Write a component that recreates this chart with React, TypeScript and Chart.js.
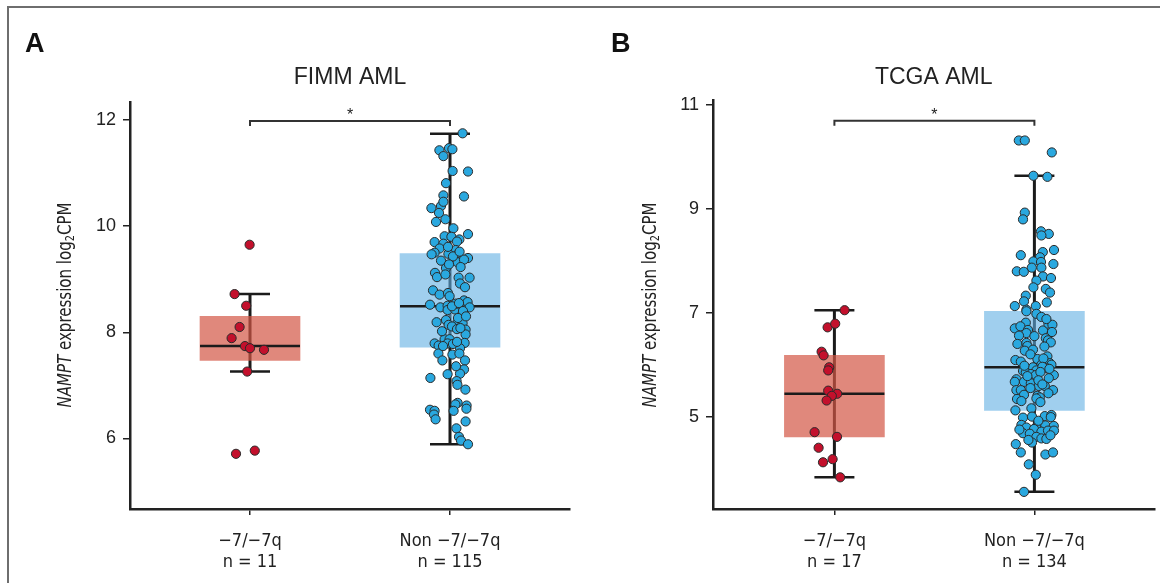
import React, { useEffect, useRef } from "react";
import { Chart, registerables } from "chart.js";

Chart.register(...registerables);

// ---------------- DATA ----------------
const categories = [1, 2];

// Panel A – FIMM AML
const titleA = "FIMM AML";
const tickLabelsA = [["−7/−7q", "n = 11"], ["Non −7/−7q", "n = 115"]];
const yTicksA = [6, 8, 10, 12];
const q1A = [7.47, 7.72];
const q3A = [8.3, 9.485];
const medianA = [7.74, 8.49];
const whiskerLowA = [7.26, 5.89];
const whiskerHighA = [8.72, 11.74];
const bracketA = 11.98;
const redValuesA = [9.65, 8.72, 8.5, 8.1, 7.89, 7.74, 7.7, 7.67, 7.26, 5.71, 5.77];
const redJitterA = [-0.002, -0.077, -0.019, -0.052, -0.092, -0.025, 0, 0.07, -0.014, -0.07, 0.024];
const blueValuesA = [
  11.75, 11.43, 11.47, 11.45, 11.32, 11.04, 11.03, 10.81, 10.58, 10.56,
  10.38, 10.34, 10.46, 10.25, 10.13, 10.08, 9.96, 9.85, 9.81, 9.8,
  9.75, 9.71, 9.7, 9.67, 9.58, 9.55, 9.5, 9.48, 9.47, 9.45,
  9.35, 9.32, 9.4, 9.35, 9.37, 9.23, 9.21, 9.12, 9.04, 9.09,
  9.03, 9.03, 8.92, 8.79, 8.71, 8.74, 8.68, 8.52, 8.47, 8.5,
  8.42, 8.43, 8.49, 8.6, 8.57, 8.47, 8.54, 8.19, 8.23, 8.14,
  8.19, 8.17, 8.11, 8.06, 8.05, 7.96, 8.08, 7.79, 7.75, 7.87,
  7.87, 7.79, 7.8, 7.7, 7.6, 7.47, 7.58, 7.6, 7.47, 7.3,
  7.22, 7.21, 7.14, 7.08, 7.01, 6.92, 6.67, 6.64, 6.62, 6.56,
  6.54, 6.52, 6.45, 6.36, 6.52, 6.32, 6.19, 6.03, 5.96, 5.89,
  8.49, 8.55, 8.4, 7.78, 7.82, 7.74, 9.43, 9.52, 9.28, 8.27,
  8.3, 8.02, 7.36, 8.85, 9.61,
];
const blueJitterA = [
  0.063, -0.053, -0.005, 0.012, -0.033, 0.013, 0.09, -0.02, -0.033, 0.07,
  -0.045, -0.093, -0.033, -0.055, -0.023, -0.07, 0.017, 0.09, -0.027, 0.007,
  0.047, 0.035, -0.077, -0.033, -0.052, 0.028, -0.077, -0.008, -0.092, 0.033,
  0.058, 0.038, 0.09, -0.045, 0.07, 0.053, -0.02, -0.075, -0.065, -0.023,
  0.043, 0.098, 0.05, -0.085, -0.052, -0.01, -0.002, -0.1, -0.048, -0.012,
  -0.012, 0.025, 0.06, 0.07, 0.088, 0.098, 0.028, -0.067, -0.02, -0.007,
  0.038, 0.063, 0.01, 0.035, 0.078, 0.078, 0.052, -0.077, -0.057, -0.027,
  -0.002, -0.012, 0.073, 0.05, -0.058, -0.038, 0.012, 0.047, 0.075, 0.07,
  0.05, -0.012, -0.098, 0.033, 0.037, 0.077, 0.038, 0.027, 0.083, 0.082,
  -0.1, -0.077, -0.08, -0.072, 0.018, 0.078, 0.032, 0.045, 0.055, 0.09,
  0.01, 0.045, 0.065, 0.015, 0.035, -0.035, 0.015, 0.048, -0.005, 0.04,
  0.08, -0.04, 0.03, 0.075, -0.01,
];

// Panel B – TCGA AML
const titleB = "TCGA AML";
const tickLabelsB = [["−7/−7q", "n = 17"], ["Non −7/−7q", "n = 134"]];
const yTicksB = [5, 7, 9, 11];
const q1B = [4.61, 5.12];
const q3B = [6.18, 7.03];
const medianB = [5.44, 5.95];
const whiskerLowB = [3.83, 3.55];
const whiskerHighB = [7.05, 9.64];
const bracketB = 10.7;
const redValuesB = [7.05, 6.72, 6.79, 6.25, 6.18, 5.95, 5.89, 5.5, 5.44, 5.4, 5.31, 4.7, 4.61, 4.4, 4.18, 4.12, 3.83];
const redJitterB = [0.051, -0.034, 0.004, -0.064, -0.054, -0.026, -0.031, -0.031, 0.014, -0.013, -0.039, -0.099, 0.013, -0.079, -0.009, -0.057, 0.029];
const blueValuesB = [
  10.32, 10.32, 10.09, 9.64, 9.62, 8.93, 8.8, 8.57, 8.52, 8.49,
  8.21, 8.11, 8.17, 8.07, 7.99, 7.98, 7.94, 7.87, 7.87, 7.8,
  7.79, 7.7, 7.67, 7.62, 7.49, 7.46, 7.39, 7.33, 7.22, 7.2,
  7.13, 7.13, 7.06,
  7.03, 6.98, 6.92, 6.81, 6.7, 6.74, 6.67, 6.61, 6.56, 6.66,
  6.79, 6.77, 6.63, 6.51, 6.47, 6.43, 6.4, 6.42, 6.36, 6.27,
  6.29, 6.16, 6.09, 6.06, 6.11, 6.0, 6.03, 6.0, 5.93, 5.9,
  5.95, 5.89, 5.88, 5.85, 5.82, 5.8, 5.8, 5.72, 5.67, 5.67,
  5.64, 5.74, 5.59, 5.59, 5.51, 5.51, 5.51, 5.42, 5.4, 5.37,
  5.34, 5.3, 5.35, 5.12, 5.16, 4.98, 5.0, 5.01, 5.03, 4.99,
  4.84, 4.79, 4.8, 4.83, 4.82, 4.76, 4.71, 4.73, 4.73, 4.68,
  4.67, 4.61, 4.58, 4.57, 4.5, 4.47, 4.31, 4.27, 4.31, 4.08,
  3.88, 3.55,
  6.88, 6.55, 6.35, 6.2, 6.12, 5.98, 5.96, 5.92, 5.86, 5.78,
  5.7, 5.62, 5.55, 5.45, 5.28, 4.92, 4.75, 4.64, 4.55,
];
const blueJitterB = [
  -0.078, -0.048, 0.087, -0.005, 0.065, -0.048, -0.057, 0.033, 0.072, 0.035,
  0.098, -0.068, 0.042, 0.028, -0.005, 0.033, 0.095, -0.013, 0.035, -0.088,
  -0.053, 0.043, 0.083, 0.01, -0.005, 0.057, 0.078, -0.043, -0.052, 0.062,
  -0.098, 0.007, -0.04,
  -0.04, 0.01, 0.035, -0.043, -0.098, -0.07, -0.032, -0.04, -0.077, 0.043,
  0.07, 0.09, 0.088, 0.057, 0.068, 0.082, -0.085, -0.04, -0.035, -0.048,
  -0.007, 0.065, -0.095, -0.068, 0.015, 0.035, 0.077, 0.085, 0.063, -0.028,
  -0.007, 0.01, -0.057, -0.043, -0.018, 0.007, 0.097, -0.09, -0.098, -0.052,
  -0.018, 0.072, 0.022, 0.052, 0.093, -0.09, -0.068, -0.052, 0.015, 0.027,
  -0.087, -0.065, 0.01, -0.095, -0.015, -0.057, -0.012, 0.052, 0.085, 0.082,
  -0.065, -0.04, 0.01, 0.055, 0.097, -0.002, 0.035, 0.068, 0.098, -0.057,
  -0.023, 0.01, 0.035, 0.06, -0.012, -0.093, -0.068, 0.055, 0.093, -0.028,
  0.007, -0.052,
  0.06, 0.0, 0.05, -0.02, 0.045, -0.05, 0.04, 0.075, 0.03, -0.035,
  0.02, 0.04, -0.02, 0.07, 0.03, 0.02, -0.075, 0.08, -0.03,
];

// ---------------- STYLE ----------------
const INK = "#222222";
const RED_POINT = "#C3102C";
const BLUE_POINT = "#2AA8DF";
const RED_BOX = "rgba(211, 85, 68, 0.7)";
const BLUE_BOX = "rgba(97, 175, 227, 0.6)";
const SANS = '"Liberation Sans", Arial, Helvetica, sans-serif';
const NARROW = '"Liberation Sans Narrow", "DejaVu Sans Condensed", "Liberation Sans", sans-serif';

type PanelCfg = {
  letter: string;
  title: string;
  tickLabels: string[][];
  yTicks: number[];
  yMin: number;
  yMax: number;
  xMin: number;
  xMax: number;
  q1: number[];
  q3: number[];
  median: number[];
  whiskerLow: number[];
  whiskerHigh: number[];
  bracket: number;
  redValues: number[];
  redJitter: number[];
  blueValues: number[];
  blueJitter: number[];
  yAxisWidth: number;
  padRight: number;
  padTop: number;
  yTitleOffset: number;
};

const panelA: PanelCfg = {
  letter: "A",
  title: titleA,
  tickLabels: tickLabelsA,
  yTicks: yTicksA,
  yMin: 4.67,
  yMax: 12.34,
  xMin: 0.4,
  xMax: 2.6,
  q1: q1A,
  q3: q3A,
  median: medianA,
  whiskerLow: whiskerLowA,
  whiskerHigh: whiskerHighA,
  bracket: bracketA,
  redValues: redValuesA,
  redJitter: redJitterA,
  blueValues: blueValuesA,
  blueJitter: blueJitterA,
  yAxisWidth: 130,
  padRight: 10,
  padTop: 102,
  yTitleOffset: 64,
};

const panelB: PanelCfg = {
  letter: "B",
  title: titleB,
  tickLabels: tickLabelsB,
  yTicks: yTicksB,
  yMin: 3.22,
  yMax: 11.1,
  xMin: 0.393,
  xMax: 2.6,
  q1: q1B,
  q3: q3B,
  median: medianB,
  whiskerLow: whiskerLowB,
  whiskerHigh: whiskerHighB,
  bracket: bracketB,
  redValues: redValuesB,
  redJitter: redJitterB,
  blueValues: blueValuesB,
  blueJitter: blueJitterB,
  yAxisWidth: 133,
  padRight: 5,
  padTop: 100,
  yTitleOffset: 62,
};

const W = 580;
const H = 583;
const AXIS_BOTTOM = 509;
const X_AXIS_H = 70;

function makePlugin(cfg: PanelCfg) {
  const line = (ctx: CanvasRenderingContext2D, x1: number, y1: number, x2: number, y2: number) => {
    ctx.beginPath();
    ctx.moveTo(x1, y1);
    ctx.lineTo(x2, y2);
    ctx.stroke();
  };
  return {
    id: "boxExtras" + cfg.letter,
    beforeDatasetsDraw(chart: any) {
      const { ctx, scales } = chart;
      const x = scales.x;
      const y = scales.y;
      ctx.save();
      ctx.strokeStyle = "#1b1b1b";
      categories.forEach((c, i) => {
        const cx = x.getPixelForValue(c);
        ctx.lineWidth = 3;
        line(ctx, cx, y.getPixelForValue(cfg.whiskerLow[i]), cx, y.getPixelForValue(cfg.whiskerHigh[i]));
        ctx.lineWidth = 2.5;
        const l = x.getPixelForValue(c - 0.1);
        const r = x.getPixelForValue(c + 0.1);
        line(ctx, l, y.getPixelForValue(cfg.whiskerLow[i]), r, y.getPixelForValue(cfg.whiskerLow[i]));
        line(ctx, l, y.getPixelForValue(cfg.whiskerHigh[i]), r, y.getPixelForValue(cfg.whiskerHigh[i]));
      });
      ctx.restore();
    },
    afterDatasetDraw(chart: any, args: any) {
      if (args.index !== 0) return;
      const { ctx, scales } = chart;
      ctx.save();
      ctx.strokeStyle = "#1b1b1b";
      ctx.lineWidth = 2.5;
      categories.forEach((c, i) => {
        const yy = scales.y.getPixelForValue(cfg.median[i]);
        line(ctx, scales.x.getPixelForValue(c - 0.25), yy, scales.x.getPixelForValue(c + 0.25), yy);
      });
      ctx.restore();
    },
    afterDraw(chart: any) {
      const { ctx, scales, chartArea } = chart;
      const x = scales.x;
      const y = scales.y;
      ctx.save();
      // significance bracket
      const by = y.getPixelForValue(cfg.bracket);
      const bx1 = x.getPixelForValue(categories[0]);
      const bx2 = x.getPixelForValue(categories[1]);
      ctx.strokeStyle = "#333";
      ctx.lineWidth = 2;
      ctx.beginPath();
      ctx.moveTo(bx1, by + 5);
      ctx.lineTo(bx1, by);
      ctx.lineTo(bx2, by);
      ctx.lineTo(bx2, by + 5);
      ctx.stroke();
      ctx.fillStyle = INK;
      ctx.font = "16px " + SANS;
      ctx.textAlign = "center";
      ctx.textBaseline = "alphabetic";
      ctx.fillText("*", (bx1 + bx2) / 2, by - 1);
      // panel title
      ctx.font = "23px " + SANS;
      ctx.textBaseline = "middle";
      ctx.fillText(cfg.title, (chartArea.left + chartArea.right) / 2, 78);
      // panel letter
      ctx.font = "bold 27px " + SANS;
      ctx.textAlign = "left";
      ctx.textBaseline = "alphabetic";
      ctx.fillStyle = "#111";
      ctx.fillText(cfg.letter, cfg.letter === "A" ? 25 : 31, 52);
      // y-axis title
      ctx.fillStyle = INK;
      ctx.translate(chartArea.left - cfg.yTitleOffset, 305);
      ctx.rotate(-Math.PI / 2);
      const parts = [
        { t: "NAMPT", f: "italic 20px " + NARROW, dy: 0 },
        { t: " expression log", f: "20px " + NARROW, dy: 0 },
        { t: "2", f: "13px " + NARROW, dy: 5 },
        { t: "CPM", f: "20px " + NARROW, dy: 0 },
      ];
      let total = 0;
      const widths = parts.map((p) => {
        ctx.font = p.f;
        const w = ctx.measureText(p.t).width;
        total += w;
        return w;
      });
      const sx = 205 / total;
      ctx.scale(sx, 1);
      ctx.textBaseline = "middle";
      ctx.textAlign = "left";
      let px = -total / 2;
      parts.forEach((p, i) => {
        ctx.font = p.f;
        ctx.fillText(p.t, px, p.dy);
        px += widths[i];
      });
      ctx.restore();
    },
  };
}

function Panel({ cfg, left }: { cfg: PanelCfg; left: number }) {
  const ref = useRef<HTMLCanvasElement>(null);
  useEffect(() => {
    const canvas = ref.current;
    if (!canvas) return;
    const redData = cfg.redValues.map((v, i) => ({ x: categories[0] + cfg.redJitter[i], y: v }));
    const blueData = cfg.blueValues.map((v, i) => ({ x: categories[1] + cfg.blueJitter[i], y: v }));
    const boxData = categories.map((c, i) => ({ x: c, y: [cfg.q1[i], cfg.q3[i]] }));
    const chart = new Chart(canvas, {
      type: "scatter",
      data: {
        datasets: [
          {
            type: "bar",
            data: boxData as any,
            backgroundColor: [RED_BOX, BLUE_BOX],
            borderWidth: 0,
            barThickness: 100,
            grouped: false,
            order: 1,
          } as any,
          {
            type: "scatter",
            data: redData,
            backgroundColor: RED_POINT,
            borderColor: "#2a2a2a",
            borderWidth: 1,
            pointRadius: 4.6,
            order: 0,
          },
          {
            type: "scatter",
            data: blueData,
            backgroundColor: BLUE_POINT,
            borderColor: "#2a2a2a",
            borderWidth: 1,
            pointRadius: 4.6,
            order: 0,
          },
        ],
      },
      options: {
        responsive: false,
        animation: false,
        events: [],
        layout: {
          padding: { left: 0, right: cfg.padRight, top: cfg.padTop, bottom: H - AXIS_BOTTOM - X_AXIS_H },
        },
        plugins: { legend: { display: false }, tooltip: { enabled: false }, title: { display: false } },
        scales: {
          x: {
            type: "linear",
            offset: false,
            min: cfg.xMin,
            max: cfg.xMax,
            afterBuildTicks: (s: any) => {
              s.ticks = categories.map((v) => ({ value: v }));
            },
            afterFit: (s: any) => {
              s.height = X_AXIS_H;
            },
            ticks: {
              autoSkip: false,
              maxRotation: 0,
              color: INK,
              padding: 16,
              font: { family: NARROW, size: 18, lineHeight: 1.15 },
              callback: (_v: any, i: number) => cfg.tickLabels[i],
            },
            grid: {
              display: true,
              offset: false,
              drawOnChartArea: false,
              drawTicks: true,
              tickLength: 6,
              color: INK,
              lineWidth: 1.5,
            },
            border: { display: true, color: INK, width: 2.5 },
          },
          y: {
            type: "linear",
            min: cfg.yMin,
            max: cfg.yMax,
            afterBuildTicks: (s: any) => {
              s.ticks = cfg.yTicks.map((v) => ({ value: v }));
            },
            afterFit: (s: any) => {
              s.width = cfg.yAxisWidth;
            },
            ticks: { color: INK, padding: 7, font: { family: SANS, size: 18 } },
            grid: { display: true, drawOnChartArea: false, drawTicks: true, tickLength: 7, color: INK, lineWidth: 1.5 },
            border: { display: true, color: INK, width: 2.5 },
          },
        },
      },
      plugins: [makePlugin(cfg)],
    } as any);
    return () => chart.destroy();
  }, [cfg]);
  return (
    <canvas
      ref={ref}
      width={W}
      height={H}
      style={{ position: "absolute", left, top: 0, width: W, height: H }}
    />
  );
}

export default function App() {
  return (
    <div
      style={{
        position: "fixed",
        left: 0,
        top: 0,
        width: 1160,
        height: 583,
        overflow: "hidden",
        background: "#ffffff",
      }}
    >
      <div
        style={{
          position: "absolute",
          left: 7,
          top: 6,
          width: 1200,
          height: 700,
          borderTop: "2px solid #6e6e6e",
          borderLeft: "2px solid #6e6e6e",
        }}
      />
      <Panel cfg={panelA} left={0} />
      <Panel cfg={panelB} left={580} />
    </div>
  );
}
